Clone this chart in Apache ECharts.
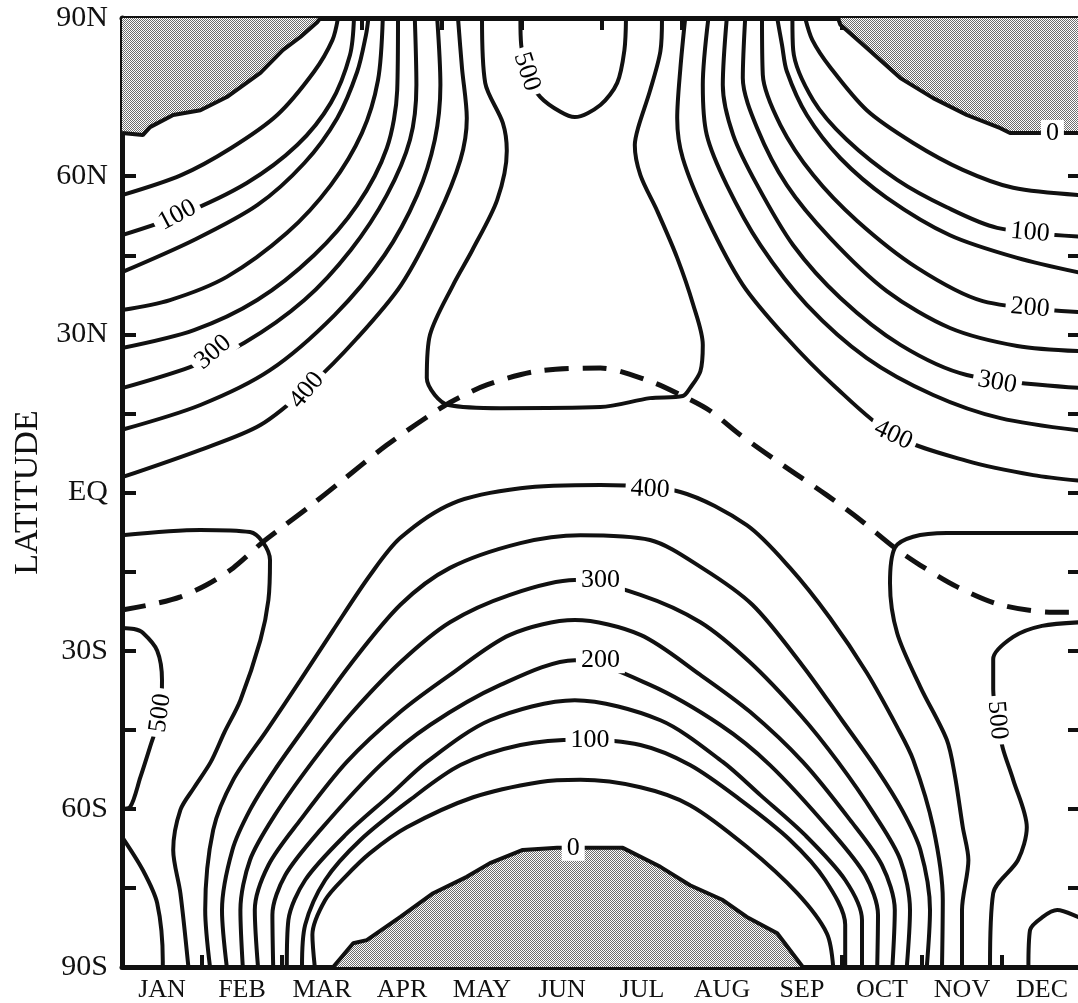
<!DOCTYPE html>
<html><head><meta charset="utf-8">
<script src="https://cdn.jsdelivr.net/npm/echarts/dist/echarts.min.js"></script>
<style>html,body{margin:0;padding:0;background:#fff;}#c{width:1078px;height:1003px;}</style>
</head><body><div id="c"></div>
<script>
// x = month (0 = Jan 1, 12 = Dec 31), y = latitude (deg, + north)
const months = ['JAN','FEB','MAR','APR','MAY','JUN','JUL','AUG','SEP','OCT','NOV','DEC'];
const latTickLabels = {'90':'90N','60':'60N','30':'30N','0':'EQ','-30':'30S','-60':'60S','-90':'90S'};

// 0 W/m2 contours (polar night boundaries, shaded)
const nh0West = [[0,68.2],[0.26,67.8],[0.35,69.3],[0.64,71.6],[0.98,72.5],[1.31,75.0],[1.73,79.6],[2.01,83.9],[2.23,86.4],[2.44,89.2],[2.48,90]];
const nh0East = [[8.95,90],[8.98,88.7],[9.31,84.3],[9.73,78.6],[10.14,74.8],[10.56,71.6],[10.98,69.1],[11.1,68.2],[12,68.2]];
const sh0 = [[2.64,-90],[2.89,-85.5],[3.06,-84.9],[3.48,-80.5],[3.89,-76.0],[4.31,-72.9],[4.6,-70.3],[5.01,-67.8],[5.44,-67.4],[6.26,-67.4],[6.73,-71.0],[7.1,-74.5],[7.51,-77.3],[7.81,-80.5],[8.19,-83.6],[8.51,-90]];

// Northern hemisphere, early-year side (50..400)
const nw050 = [[0,56.4],[0.74,60.2],[1.36,65.3],[1.94,71.6],[2.4,79.8],[2.63,85.8],[2.7,90]];
const nw100 = [[0,48.8],[0.73,52.6],[1.56,58.7],[2.19,65.9],[2.61,73.9],[2.85,83.0],[2.9,90]];
const nw150 = [[0,41.8],[0.9,47.9],[1.69,54.5],[2.28,62.5],[2.69,71.0],[2.94,79.8],[3.05,86.8],[3.08,90]];
const nw200 = [[0,34.6],[0.6,36.5],[1.31,40.9],[2.06,49.2],[2.61,58.3],[3.0,68.2],[3.2,78.2],[3.26,90]];
const nw250 = [[0,27.4],[0.9,30.8],[1.69,36.5],[2.4,45.0],[2.94,54.5],[3.31,65.3],[3.44,76.3],[3.45,90]];
const nw300 = [[0,19.8],[0.85,23.8],[1.53,28.4],[2.28,36.5],[2.86,46.0],[3.31,56.4],[3.6,66.9],[3.68,77.3],[3.66,90]];
const nw350 = [[0,11.9],[0.98,16.6],[1.85,23.2],[2.66,33.7],[3.28,45.0],[3.69,56.4],[3.91,66.9],[3.98,77.3],[3.94,90]];
const nw400 = [[0,2.9],[0.98,8.1],[1.73,12.8],[2.36,20.4],[2.94,29.3],[3.49,39.4],[3.94,52.1],[4.23,63.1],[4.31,71.0],[4.25,80.5],[4.2,90]];

// 450 "vase" and 500 cap in the northern summer
const nh450 = [[4.5,90],[4.54,77.7],[4.76,70.1],[4.81,64.8],[4.69,55.5],[4.38,46.0],[4.14,39.4],[3.85,29.9],[3.81,21.7],[3.91,18.5],[4.08,16.6],[4.73,16.0],[5.98,16.2],[6.6,17.9],[7.01,18.3],[7.1,19.8],[7.23,23.0],[7.26,28.0],[7.14,35.6],[6.94,44.5],[6.69,53.4],[6.48,60.2],[6.41,65.9],[6.45,69.1],[6.6,76.2],[6.73,83.7],[6.75,90]];
const nh500 = [[4.98,90],[4.99,84.9],[5.06,79.2],[5.23,75.0],[5.48,72.2],[5.66,71.2],[5.98,73.5],[6.19,77.7],[6.28,83.9],[6.3,90]];

// Northern hemisphere, late-year side (400..50)
const ne400 = [[7.04,90],[6.98,80.5],[6.94,71.0],[7.01,63.4],[7.31,52.1],[7.76,39.4],[8.31,29.3],[8.89,20.4],[9.64,10.9],[10.56,6.0],[11.39,3.3],[12,2.2]];
const ne350 = [[7.33,90],[7.26,77.3],[7.31,67.8],[7.56,58.3],[7.98,46.9],[8.56,35.6],[9.31,25.5],[10.14,18.5],[10.98,14.1],[12,11.7]];
const ne300 = [[7.56,90],[7.51,77.3],[7.64,67.8],[7.94,58.3],[8.39,46.9],[8.98,36.9],[9.73,28.0],[10.56,22.3],[12,19.8]];
const ne250 = [[7.79,90],[7.76,78.6],[7.94,69.1],[8.31,58.3],[8.85,48.3],[9.56,38.2],[10.35,31.2],[11.19,27.8],[12,26.8]];
const ne200 = [[8.0,90],[8.01,79.2],[8.23,69.7],[8.64,60.2],[9.19,51.5],[9.94,42.6],[10.76,36.3],[12,34.2]];
const ne150 = [[8.19,90],[8.25,84.9],[8.31,79.9],[8.56,71.6],[8.98,63.4],[9.56,55.9],[10.35,48.8],[11.19,44.5],[12,41.6]];
const ne100 = [[8.38,90],[8.39,83.9],[8.64,74.4],[9.06,66.9],[9.69,59.3],[10.31,54.1],[10.94,50.2],[12,48.5]];
const ne050 = [[8.54,90],[8.63,85.8],[8.85,80.7],[9.31,72.5],[9.89,66.3],[10.51,61.2],[11.14,57.8],[12,56.4]];

// Southern hemisphere arches (400..50)
const s400 = [[1.1,-90],[1.04,-79.2],[1.14,-64.0],[1.39,-54.5],[1.81,-45.1],[2.23,-35.6],[2.64,-26.1],[3.1,-15.7],[3.48,-8.6],[4.14,-2.0],[4.98,0.8],[5.98,1.4],[6.98,0.1],[7.81,-6.2],[8.35,-14.3],[8.85,-23.8],[9.31,-34.2],[9.69,-44.5],[9.89,-50.7],[10.14,-63.5],[10.26,-77.3],[10.25,-90]];
const s350 = [[1.31,-90],[1.25,-79.2],[1.38,-67.8],[1.6,-60.2],[1.91,-52.6],[2.35,-43.2],[2.85,-32.7],[3.48,-21.3],[4.1,-14.3],[4.98,-9.6],[5.73,-8.1],[6.6,-9.0],[7.25,-14.3],[7.88,-21.3],[8.5,-32.7],[9.0,-43.2],[9.44,-52.6],[9.75,-60.2],[9.98,-67.8],[10.1,-79.2],[10.06,-90]];
const s300 = [[1.51,-90],[1.48,-79.2],[1.6,-69.7],[1.91,-61.2],[2.38,-51.1],[2.85,-42.2],[3.48,-32.2],[4.1,-24.6],[4.85,-19.4],[5.66,-16.6],[6.48,-19.4],[7.23,-24.6],[7.85,-32.2],[8.48,-42.2],[8.95,-51.1],[9.41,-61.2],[9.73,-69.7],[9.85,-79.2],[9.81,-90]];
const s250 = [[1.7,-90],[1.66,-79.2],[1.83,-70.7],[2.23,-62.1],[2.81,-51.1],[3.48,-41.6],[4.1,-34.6],[4.85,-27.0],[5.66,-24.2],[6.48,-27.0],[7.23,-34.6],[7.85,-41.6],[8.51,-51.1],[9.1,-62.1],[9.5,-70.7],[9.66,-79.2],[9.63,-90]];
const s200 = [[1.89,-90],[1.88,-80.1],[2.04,-72.6],[2.48,-64.0],[3.23,-51.7],[3.85,-44.1],[4.73,-36.5],[5.66,-31.8],[6.6,-36.5],[7.48,-44.1],[8.1,-51.7],[8.85,-64.0],[9.29,-72.6],[9.45,-80.1],[9.44,-90]];
const s150 = [[2.06,-90],[2.08,-81.1],[2.29,-73.5],[2.79,-65.0],[3.35,-57.4],[3.81,-51.1],[4.6,-43.2],[5.66,-39.4],[6.73,-43.2],[7.51,-51.1],[7.98,-57.4],[8.54,-65.0],[9.04,-73.5],[9.25,-81.1],[9.25,-90]];
const s100 = [[2.25,-90],[2.29,-82.0],[2.54,-73.5],[2.98,-65.9],[3.6,-58.3],[4.23,-51.7],[4.98,-47.9],[5.73,-46.9],[6.48,-47.9],[7.1,-51.7],[7.73,-58.3],[8.35,-65.9],[8.79,-73.5],[9.04,-82.0],[9.04,-90]];
const s050 = [[2.41,-90],[2.38,-83.9],[2.54,-77.3],[2.79,-72.9],[3.1,-68.4],[3.56,-63.5],[4.39,-57.8],[5.23,-54.9],[5.73,-54.5],[6.48,-55.9],[7.1,-59.3],[7.81,-67.2],[8.44,-76.0],[8.81,-83.6],[8.89,-90]];

// Southern summer high-insolation contours
const sw450 = [[0,-8.1],[0.98,-7.1],[1.6,-7.5],[1.76,-9.4],[1.85,-12.8],[1.83,-20.4],[1.73,-28.0],[1.48,-39.4],[1.28,-45.5],[1.11,-51.1],[0.9,-56.0],[0.73,-60.2],[0.64,-67.8],[0.73,-76.0],[0.83,-90]];
const sw500a = [[0,-25.7],[0.15,-25.9],[0.26,-26.6],[0.44,-30.0],[0.5,-35.6],[0.48,-41.8],[0.35,-48.3],[0.23,-54.0],[0.1,-59.7],[0,-60.0]];
const sw500b = [[0,-65.3],[0.26,-71.6],[0.44,-77.9],[0.51,-88.9],[0.51,-90]];
const se450 = [[12,-7.7],[11.14,-7.7],[10.31,-7.7],[9.89,-8.4],[9.66,-10.5],[9.6,-17.2],[9.69,-26.7],[9.98,-36.9],[10.31,-46.9],[10.41,-53.6],[10.51,-63.5],[10.58,-69.7],[10.5,-79.2],[10.5,-90]];
const se500 = [[12,-24.6],[11.5,-25.3],[11.14,-27.4],[10.89,-31.6],[10.89,-37.3],[10.94,-43.2],[11.01,-48.5],[11.14,-54.5],[11.31,-63.5],[11.2,-69.7],[10.89,-76.0],[10.85,-90]];
const se550 = [[11.33,-90],[11.35,-83.0],[11.51,-80.5],[11.69,-79.2],[11.95,-80.5],[12,-81.0]];

// Dashed line (latitude of the sun)
const sunLat = [[0,-22.3],[0.44,-21.0],[0.73,-19.8],[1.06,-17.5],[1.39,-14.3],[1.76,-9.4],[2.01,-6.5],[2.35,-2.6],[2.73,2.0],[3.31,9.0],[3.85,14.7],[4.14,17.4],[4.56,20.4],[5.19,23.0],[5.98,23.6],[6.6,21.1],[7.01,18.3],[7.35,15.5],[7.73,10.9],[8.26,5.2],[8.81,-0.5],[9.23,-5.2],[9.66,-10.5],[9.98,-13.8],[10.44,-17.9],[10.98,-21.3],[11.64,-22.7],[12,-22.7]];

// Contour labels
const labelPos = [[0.69,52.6],[1.14,26.6],[2.31,19.4],[5.06,79.8],[11.63,68.2],[11.35,49.3],[11.35,35.0],[10.94,20.9],[9.64,10.9],[6.6,0.6],[5.98,-16.6],[5.98,-31.8],[5.85,-46.9],[5.64,-67.4],[0.48,-41.8],[10.94,-43.2]];
const labelText = ['100','300','400','500','0','100','200','300','400','400','300','200','100','0','500','500'];
const labelAngle = [28,40,50,-72,0,-5,-5,-10,-25,-3,0,0,0,0,82,-85];

const FONT = 'Liberation Serif';
const INK = '#111';

function pattern(){
  const c = document.createElement('canvas'); c.width = 2; c.height = 2;
  const g = c.getContext('2d');
  g.fillStyle = '#fff'; g.fillRect(0,0,2,2);
  g.fillStyle = '#6e6e6e'; g.fillRect(0,0,1,1); g.fillRect(1,1,1,1);
  return {image: c, repeat: 'repeat'};
}
const pat = pattern();

function contour(data, extra){
  return Object.assign({
    type:'line', data:data, symbol:'none', smooth:0.3, silent:true, animation:false,
    lineStyle:{color:INK, width:4}, z:3
  }, extra || {});
}

const solid = [nw050,nw100,nw150,nw200,nw250,nw300,nw350,nw400,nh450,nh500,
  ne400,ne350,ne300,ne250,ne200,ne150,ne100,ne050,
  s400,s350,s300,s250,s200,s150,s100,s050,sw450,sw500a,sw500b,se450,se500,se550];

const series = [];
series.push(contour(nh0West, {smooth:false, areaStyle:{color:pat, opacity:1, origin:'end'}, z:2}));
series.push(contour(nh0East, {smooth:false, areaStyle:{color:pat, opacity:1, origin:'end'}, z:2}));
series.push(contour(sh0, {smooth:false, areaStyle:{color:pat, opacity:1, origin:'start'}, z:2}));
solid.forEach(d => series.push(contour(d)));
series.push(contour(sunLat, {lineStyle:{color:INK, width:5, type:[24,14]}}));
series.push({
  type:'scatter', silent:true, animation:false, z:10, symbol:'circle', symbolSize:1,
  itemStyle:{color:'#fff', opacity:1},
  data: labelPos.map((p,i)=>({value:p, label:{show:true, formatter:labelText[i], rotate:labelAngle[i]}})),
  label:{show:true, position:'inside', fontFamily:FONT, fontSize:26, color:'#000', opacity:1,
         backgroundColor:'#fff', padding:[0,5]},
  emphasis:{disabled:true},
  labelLayout:{hideOverlap:false}
});

const axisLineStyle = {show:true, onZero:false, lineStyle:{color:INK, width:5}};
const chart = echarts.init(document.getElementById('c'), null, {renderer:'canvas'});
chart.setOption({
  backgroundColor:'#fff',
  animation:false,
  grid:{left:122, top:18, width:960, height:949, containLabel:false, outerBoundsMode:'none'},
  xAxis:[
    {type:'value', min:0, max:12, interval:1, position:'bottom', axisLine:axisLineStyle,
     axisTick:{show:true, inside:true, length:12, lineStyle:{color:INK, width:4}},
     splitLine:{show:false},
     axisLabel:{show:true, showMinLabel:true, showMaxLabel:true, margin:10, fontFamily:FONT, fontSize:26, color:INK,
       padding:[0,0,0,80], formatter: v => (v < 12 ? months[v] : '')}},
    {type:'value', min:0, max:12, interval:1, position:'top', axisLine:axisLineStyle,
     axisTick:{show:true, inside:true, length:12, lineStyle:{color:INK, width:4}},
     splitLine:{show:false}, axisLabel:{show:false}}
  ],
  yAxis:[
    {type:'value', min:-90, max:90, interval:15, position:'left', axisLine:axisLineStyle,
     name:'LATITUDE', nameLocation:'middle', nameGap:76, nameRotate:90,
     nameTextStyle:{fontFamily:FONT, fontSize:34, color:INK},
     axisTick:{show:true, inside:true, length:14, lineStyle:{color:INK, width:4}},
     splitLine:{show:false},
     axisLabel:{show:true, showMinLabel:true, showMaxLabel:true, margin:14, fontFamily:FONT, fontSize:30, color:INK,
       formatter: v => latTickLabels[String(v)] || ''}},
    {type:'value', min:-90, max:90, interval:15, position:'right', axisLine:axisLineStyle,
     axisTick:{show:true, inside:true, length:14, lineStyle:{color:INK, width:4}},
     splitLine:{show:false}, axisLabel:{show:false}}
  ],
  series: series
});
</script>
</body></html>
